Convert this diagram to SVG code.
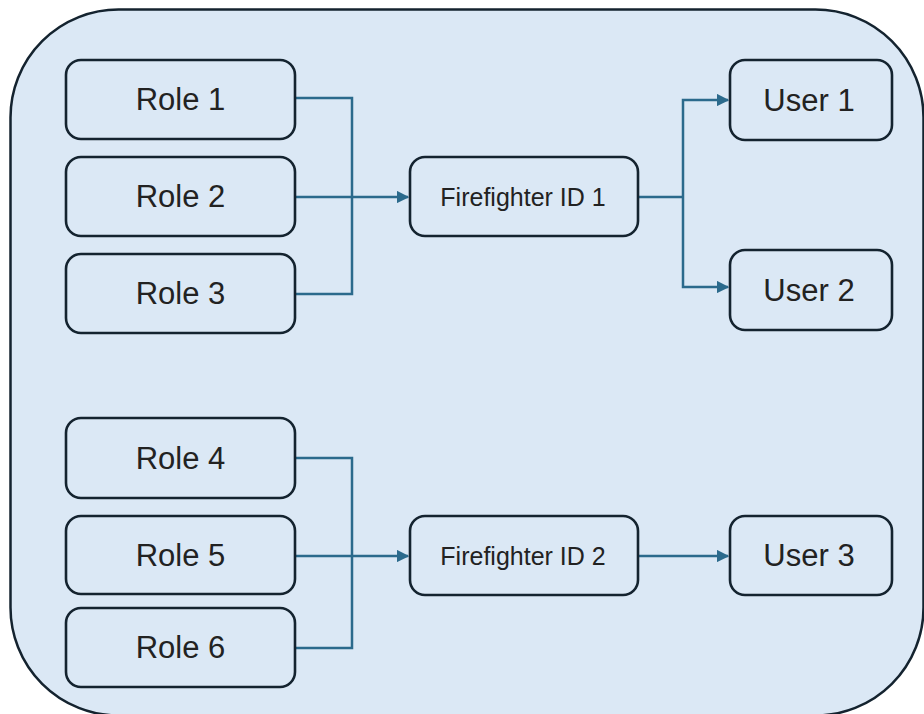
<svg xmlns="http://www.w3.org/2000/svg" width="924" height="714" viewBox="0 0 924 714">
<defs>
<style>
.box{fill:#dbe8f5;stroke:#14232f;stroke-width:2.6}
.lbl{font-family:"Liberation Sans",Arial,sans-serif;font-size:31px;fill:#222;text-anchor:middle;dominant-baseline:central}
.ff{font-size:25px}
.con{fill:none;stroke:#2b6a8c;stroke-width:2.5}
</style>
<marker id="arr" viewBox="0 0 10 10" refX="9" refY="5" markerWidth="5" markerHeight="5" orient="auto" markerUnits="strokeWidth">
<path d="M0,0 L10,5 L0,10 z" fill="#2b6a8c"/>
</marker>
</defs>
<rect width="924" height="714" fill="#ffffff"/>
<rect id="container" x="10.5" y="9.5" width="913" height="706" rx="108" ry="108" fill="#dbe8f5" stroke="#14232f" stroke-width="2.5"/>
<g id="connectors">
<path class="con" d="M295,98 H352 V294 H295"/>
<path class="con" d="M295,197 H408" marker-end="url(#arr)"/>
<path class="con" d="M638,197 H683"/>
<path class="con" d="M683,197 V100 H728" marker-end="url(#arr)"/>
<path class="con" d="M683,197 V287 H728" marker-end="url(#arr)"/>
<path class="con" d="M295,458 H352 V648 H295"/>
<path class="con" d="M295,556 H408" marker-end="url(#arr)"/>
<path class="con" d="M638,556 H728" marker-end="url(#arr)"/>
</g>
<g id="role1"><rect class="box" x="66" y="60" width="229" height="79" rx="15"/><text class="lbl" x="180.5" y="99.5">Role 1</text></g>
<g id="role2"><rect class="box" x="66" y="157" width="229" height="79" rx="15"/><text class="lbl" x="180.5" y="196.5">Role 2</text></g>
<g id="role3"><rect class="box" x="66" y="254" width="229" height="79" rx="15"/><text class="lbl" x="180.5" y="293.5">Role 3</text></g>
<g id="role4"><rect class="box" x="66" y="418" width="229" height="80" rx="15"/><text class="lbl" x="180.5" y="458">Role 4</text></g>
<g id="role5"><rect class="box" x="66" y="516" width="229" height="78" rx="15"/><text class="lbl" x="180.5" y="555">Role 5</text></g>
<g id="role6"><rect class="box" x="66" y="608" width="229" height="79" rx="15"/><text class="lbl" x="180.5" y="647.5">Role 6</text></g>
<g id="ff1"><rect class="box" x="410" y="157" width="228" height="79" rx="15"/><text class="lbl ff" x="523" y="196.5">Firefighter ID 1</text></g>
<g id="ff2"><rect class="box" x="410" y="516" width="228" height="79" rx="15"/><text class="lbl ff" x="523" y="555.5">Firefighter ID 2</text></g>
<g id="user1"><rect class="box" x="730" y="60" width="162" height="80" rx="15"/><text class="lbl" x="809" y="100">User 1</text></g>
<g id="user2"><rect class="box" x="730" y="250" width="162" height="80" rx="15"/><text class="lbl" x="809" y="290">User 2</text></g>
<g id="user3"><rect class="box" x="730" y="516" width="162" height="79" rx="15"/><text class="lbl" x="809" y="555.5">User 3</text></g>
</svg>
